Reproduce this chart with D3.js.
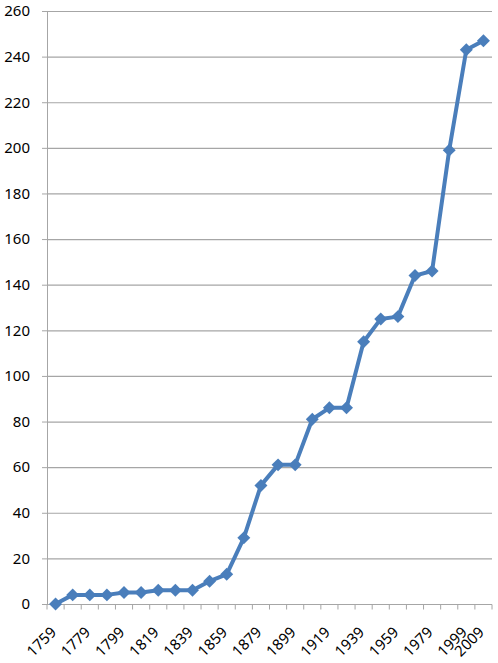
<!DOCTYPE html>
<html>
<head>
<meta charset="utf-8">
<script src="https://cdn.jsdelivr.net/npm/d3@7"></script>
<style>
  body { margin: 0; background: #fff; }
  svg { display: block; }
</style>
</head>
<body>
<div id="chart"></div>
<script>
// Data
const years = ['1759','1769','1779','1789','1799','1809','1819','1829','1839','1849','1859','1869','1879',
  '1889','1899','1909','1919','1929','1939','1949','1959','1969','1979','1989','1999','2009'];
const values = [0,4,4,4,5,5,6,6,6,10,13,29,52,61,61,81,86,86,115,125,126,144,146,199,243,247];
const xLabels = ['1759','1779','1799','1819','1839','1859','1879','1899','1919','1939','1959','1979','1999','2009'];
const yTicks = [0,20,40,60,80,100,120,140,160,180,200,220,240,260];

const width = 498;
const height = 663;
const margin = { top: 11, right: 6, bottom: 59, left: 47 };

const svg = d3.select('#chart')
  .append('svg')
  .attr('width', width)
  .attr('height', height);

const x = d3.scaleBand()
  .domain(years)
  .range([margin.left, width - margin.right])
  .padding(0);

const y = d3.scaleLinear()
  .domain([0, 260])
  .range([height - margin.bottom, margin.top]);

const font = "'Noto Sans', 'Liberation Sans', sans-serif";
const gridColor = '#a6a6a6';
const lineColor = '#4a7ebb';

// Gridlines + y axis
const yAxis = svg.append('g')
  .attr('transform', `translate(${margin.left},0)`)
  .call(d3.axisLeft(y).tickValues(yTicks).tickSize(5).tickPadding(12));
yAxis.select('.domain').attr('stroke', gridColor);
yAxis.selectAll('.tick line').attr('stroke', gridColor);
yAxis.selectAll('.tick text')
  .style('font-family', font)
  .style('font-size', '15px')
  .attr('fill', '#000');

svg.append('g')
  .selectAll('line')
  .data(yTicks.filter(d => d > 0))
  .enter()
  .append('line')
  .attr('x1', margin.left)
  .attr('x2', width - margin.right)
  .attr('y1', d => y(d) + 0.5)
  .attr('y2', d => y(d) + 0.5)
  .attr('stroke', gridColor)
  .attr('stroke-width', 1.2);

// x axis line and tick marks at category boundaries
const x0 = y(0) + 0.5;
svg.append('line')
  .attr('x1', margin.left)
  .attr('x2', width - margin.right)
  .attr('y1', x0)
  .attr('y2', x0)
  .attr('stroke', gridColor)
  .attr('stroke-width', 1.2);

const bounds = years.map(d => x(d)).concat([x.range()[1]]);
svg.append('g')
  .selectAll('line')
  .data(bounds)
  .enter()
  .append('line')
  .attr('x1', d => d)
  .attr('x2', d => d)
  .attr('y1', x0)
  .attr('y2', x0 + 5)
  .attr('stroke', gridColor);

// x labels (rotated)
const xAxis = svg.append('g')
  .attr('transform', `translate(0,${x0})`)
  .call(d3.axisBottom(x).tickSize(0).tickFormat(d => xLabels.includes(d) ? d : ''));
xAxis.select('.domain').remove();
xAxis.selectAll('.tick text')
  .style('font-family', font)
  .style('font-size', '15px')
  .attr('fill', '#000')
  .style('text-anchor', 'end')
  .attr('y', 0)
  .attr('dx', 0)
  .attr('dy', '0.72em')
  .attr('transform', 'translate(-6,21) rotate(-45)');

// Line
const line = d3.line()
  .x((d, i) => x(years[i]) + x.bandwidth() / 2)
  .y(d => y(d));

svg.append('path')
  .datum(values)
  .attr('fill', 'none')
  .attr('stroke', lineColor)
  .attr('stroke-width', 4)
  .attr('stroke-linejoin', 'round')
  .attr('d', line);

// Diamond markers
const diamond = d3.symbol().type(d3.symbolSquare).size(84);
svg.append('g')
  .selectAll('path')
  .data(values)
  .enter()
  .append('path')
  .attr('d', diamond)
  .attr('transform', (d, i) => `translate(${x(years[i]) + x.bandwidth() / 2},${y(d)}) rotate(45)`)
  .attr('fill', lineColor);
</script>
</body>
</html>
